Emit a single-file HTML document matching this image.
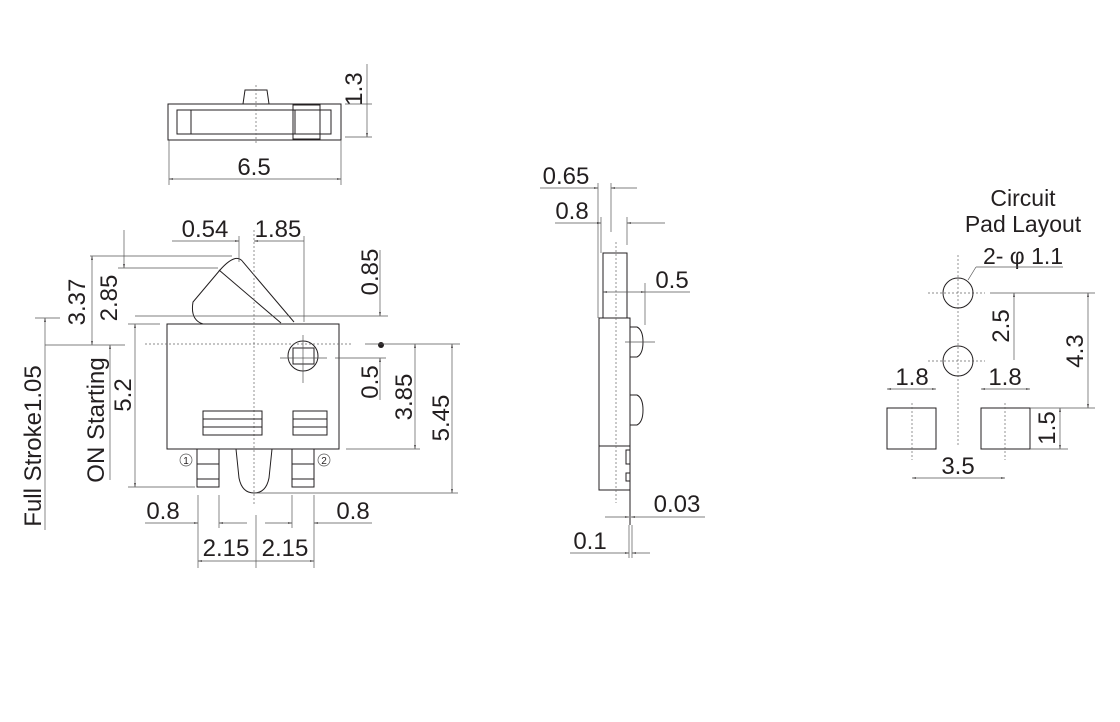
<!DOCTYPE html>
<html><head><meta charset="utf-8"><style>
html,body{margin:0;padding:0;background:#fff}
svg{display:block}
text{font-family:"Liberation Sans",sans-serif;fill:#231f20;font-size:24px}
.l{stroke:#231f20;stroke-width:1;fill:none}
.t{stroke:#555;stroke-width:.7;fill:none}
.d{stroke:#666;stroke-width:.7;fill:none;stroke-dasharray:2 2}
</style></head><body>
<svg width="1120" height="722" viewBox="0 0 1120 722" xmlns="http://www.w3.org/2000/svg">
<defs><marker id="a" viewBox="0 0 10 10" refX="10" refY="5" markerWidth="6" markerHeight="6" orient="auto-start-reverse"><path d="M0,3 L10,5 L0,7z" fill="#231f20"/></marker></defs>

<!-- Top view -->
<rect class="l" x="168" y="104" width="173" height="36"/>
<rect class="l" x="177" y="110" width="154" height="24"/>
<line class="l" x1="191" y1="110" x2="191" y2="134"/>
<rect class="l" x="293" y="105" width="27" height="34"/>
<line class="l" x1="295" y1="110" x2="295" y2="134"/>
<path class="l" d="M243,104 L245,90 L267,90 L269,104"/>
<line class="d" x1="256" y1="85" x2="256" y2="145"/>
<line class="t" x1="345" y1="104" x2="372" y2="104"/>
<line class="t" x1="345" y1="137" x2="372" y2="137"/>
<line class="t" x1="367" y1="64" x2="367" y2="137" marker-end="url(#a)"/>
<text transform="translate(362,89) rotate(-90)" text-anchor="middle">1.3</text>
<line class="t" x1="169" y1="140" x2="169" y2="185"/>
<line class="t" x1="341" y1="140" x2="341" y2="185"/>
<line class="t" x1="169" y1="179" x2="341" y2="179" marker-start="url(#a)" marker-end="url(#a)"/>
<text x="254" y="175" text-anchor="middle">6.5</text>

<!-- Main view -->
<rect class="l" x="167" y="324" width="172" height="125"/>
<path class="l" d="M203,324 Q190,320 193,302 L220,270 Q236,252 243,262 L294,322"/>
<line class="l" x1="219" y1="270" x2="281" y2="323"/>
<circle class="l" cx="303" cy="356" r="15"/>
<rect class="l" x="293" y="348" width="21" height="16"/>
<line class="t" x1="280" y1="358" x2="327" y2="358"/>
<line class="t" x1="303" y1="335" x2="303" y2="383"/>
<line class="d" x1="145" y1="344" x2="352" y2="344"/>
<line class="d" x1="254" y1="230" x2="254" y2="505"/>
<rect class="l" x="203" y="411" width="59" height="24"/>
<line class="l" x1="203" y1="419" x2="262" y2="419"/><line class="l" x1="203" y1="427" x2="262" y2="427"/>
<rect class="l" x="293" y="411" width="34" height="24"/>
<line class="l" x1="293" y1="419" x2="327" y2="419"/><line class="l" x1="293" y1="427" x2="327" y2="427"/>
<rect class="l" x="197" y="449" width="22" height="38"/>
<line class="l" x1="197" y1="464" x2="219" y2="464"/><line class="l" x1="197" y1="479" x2="219" y2="479"/>
<rect class="l" x="292" y="449" width="22" height="38"/>
<line class="l" x1="292" y1="464" x2="314" y2="464"/><line class="l" x1="292" y1="479" x2="314" y2="479"/>
<path class="l" d="M236,449 L239,478 Q242,493 254,493 Q266,493 269,478 L272,449" fill="#fff"/>
<circle class="t" cx="186" cy="460" r="6"/><text x="186" y="464" text-anchor="middle" style="font-size:10px">1</text>
<circle class="t" cx="324" cy="460" r="6"/><text x="324" y="464" text-anchor="middle" style="font-size:10px">2</text>

<line class="t" x1="239" y1="236" x2="239" y2="262"/>
<line class="t" x1="304" y1="236" x2="304" y2="322"/>
<line class="t" x1="172" y1="241" x2="239" y2="241" marker-end="url(#a)"/>
<line class="t" x1="254" y1="241" x2="304" y2="241" marker-start="url(#a)"/>
<text x="205" y="237" text-anchor="middle">0.54</text>
<text x="278" y="237" text-anchor="middle">1.85</text>

<line class="t" x1="135" y1="316" x2="388" y2="316"/>
<line class="t" x1="380" y1="250" x2="380" y2="316" marker-end="url(#a)"/>
<line class="t" x1="380" y1="358" x2="380" y2="400" marker-start="url(#a)"/>
<circle cx="381" cy="345" r="3" fill="#231f20"/>
<line class="t" x1="365" y1="344" x2="460" y2="344"/>
<line class="t" x1="335" y1="358" x2="386" y2="358"/>
<text transform="translate(378,272) rotate(-90)" text-anchor="middle">0.85</text>
<text transform="translate(378,382) rotate(-90)" text-anchor="middle">0.5</text>
<line class="t" x1="346" y1="449" x2="420" y2="449"/>
<line class="t" x1="415" y1="344" x2="415" y2="449" marker-start="url(#a)" marker-end="url(#a)"/>
<text transform="translate(412,397) rotate(-90)" text-anchor="middle">3.85</text>
<line class="t" x1="255" y1="493" x2="458" y2="493"/>
<line class="t" x1="452" y1="344" x2="452" y2="493" marker-start="url(#a)" marker-end="url(#a)"/>
<text transform="translate(449,418) rotate(-90)" text-anchor="middle">5.45</text>

<line class="t" x1="128" y1="324" x2="160" y2="324"/>
<line class="t" x1="128" y1="487" x2="195" y2="487"/>
<line class="t" x1="135" y1="324" x2="135" y2="487" marker-start="url(#a)" marker-end="url(#a)"/>
<text transform="translate(131,395) rotate(-90)" text-anchor="middle">5.2</text>
<line class="t" x1="90" y1="256" x2="232" y2="256"/>
<line class="t" x1="118" y1="268" x2="218" y2="268"/>
<line class="t" x1="124" y1="230" x2="124" y2="268" marker-end="url(#a)"/>
<text transform="translate(117,298) rotate(-90)" text-anchor="middle">2.85</text>
<line class="t" x1="92" y1="256" x2="92" y2="345" marker-start="url(#a)" marker-end="url(#a)"/>
<text transform="translate(85,302) rotate(-90)" text-anchor="middle">3.37</text>
<line class="t" x1="45" y1="345" x2="125" y2="345"/>
<line class="t" x1="35" y1="318" x2="60" y2="318"/>
<line class="t" x1="110" y1="345" x2="110" y2="480" marker-start="url(#a)"/>
<line class="t" x1="45" y1="318" x2="45" y2="530" marker-start="url(#a)"/>
<text transform="translate(104,420) rotate(-90)" text-anchor="middle">ON Starting</text>
<text transform="translate(41,446) rotate(-90)" text-anchor="middle">Full Stroke1.05</text>

<line class="t" x1="198" y1="495" x2="198" y2="568"/>
<line class="t" x1="219" y1="495" x2="219" y2="528"/>
<line class="t" x1="292" y1="495" x2="292" y2="528"/>
<line class="t" x1="314" y1="495" x2="314" y2="568"/>
<line class="t" x1="256" y1="515" x2="256" y2="568"/>
<line class="t" x1="145" y1="523" x2="198" y2="523" marker-end="url(#a)"/>
<line class="t" x1="219" y1="523" x2="247" y2="523" marker-start="url(#a)"/>
<line class="t" x1="265" y1="523" x2="292" y2="523" marker-end="url(#a)"/>
<line class="t" x1="314" y1="523" x2="372" y2="523" marker-start="url(#a)"/>
<text x="163" y="519" text-anchor="middle">0.8</text>
<text x="353" y="519" text-anchor="middle">0.8</text>
<line class="t" x1="198" y1="561" x2="314" y2="561" marker-start="url(#a)" marker-end="url(#a)"/>
<text x="226" y="556" text-anchor="middle">2.15</text>
<text x="285" y="556" text-anchor="middle">2.15</text>

<!-- Side view -->
<rect class="l" x="603" y="253" width="24" height="65"/>
<rect class="l" x="599" y="318" width="31" height="172"/>
<line class="l" x1="599" y1="446" x2="630" y2="446"/>
<rect class="l" x="626" y="450" width="4" height="14"/>
<rect class="l" x="626" y="473" width="4" height="8"/>
<path class="l" d="M630,327 L637,327 Q643,330 643,342 Q643,354 637,357 L630,357"/>
<path class="l" d="M630,395 L637,395 Q643,398 643,410 Q643,422 637,425 L630,425"/>
<line class="t" x1="625" y1="342" x2="655" y2="342"/>
<line class="l" x1="630" y1="490" x2="630" y2="525"/>
<line class="d" x1="616" y1="242" x2="616" y2="503"/>
<line class="t" x1="598" y1="183" x2="598" y2="318"/>
<line class="t" x1="611" y1="183" x2="611" y2="232"/>
<line class="t" x1="540" y1="188" x2="598" y2="188" marker-end="url(#a)"/>
<line class="t" x1="611" y1="188" x2="637" y2="188" marker-start="url(#a)"/>
<text x="566" y="184" text-anchor="middle">0.65</text>
<line class="t" x1="601" y1="217" x2="601" y2="253"/>
<line class="t" x1="627" y1="217" x2="627" y2="245"/>
<line class="t" x1="555" y1="223" x2="601" y2="223" marker-end="url(#a)"/>
<line class="t" x1="627" y1="223" x2="665" y2="223" marker-start="url(#a)"/>
<text x="572" y="219" text-anchor="middle">0.8</text>
<line class="t" x1="645" y1="283" x2="645" y2="325"/>
<line class="t" x1="603" y1="292" x2="645" y2="292" marker-start="url(#a)" marker-end="url(#a)"/>
<line class="t" x1="645" y1="292" x2="690" y2="292"/>
<text x="672" y="288" text-anchor="middle">0.5</text>
<line class="t" x1="605" y1="517" x2="629" y2="517" marker-end="url(#a)"/>
<line class="t" x1="631" y1="517" x2="705" y2="517" marker-start="url(#a)"/>
<text x="677" y="512" text-anchor="middle">0.03</text>
<line class="t" x1="629" y1="525" x2="629" y2="558"/>
<line class="t" x1="632" y1="525" x2="632" y2="558"/>
<line class="t" x1="570" y1="553" x2="629" y2="553" marker-end="url(#a)"/>
<line class="t" x1="632" y1="553" x2="650" y2="553" marker-start="url(#a)"/>
<text x="590" y="549" text-anchor="middle">0.1</text>

<!-- Pad layout -->
<text x="1023" y="206" text-anchor="middle" style="font-size:23px">Circuit</text>
<text x="1023" y="232" text-anchor="middle" style="font-size:23px">Pad Layout</text>
<text x="1023" y="264" text-anchor="middle" style="font-size:23px">2- φ 1.1</text>
<line class="t" x1="976" y1="267" x2="1063" y2="267"/>
<line class="t" x1="976" y1="267" x2="968" y2="280"/>
<line class="d" x1="958" y1="255" x2="958" y2="445"/>
<line class="d" x1="928" y1="293" x2="985" y2="293"/>
<line class="d" x1="928" y1="361" x2="985" y2="361"/>
<circle class="l" cx="958" cy="293" r="15"/>
<circle class="l" cx="958" cy="361" r="15"/>
<rect class="l" x="887" y="408" width="49" height="41"/>
<rect class="l" x="981" y="408" width="49" height="41"/>
<line class="d" x1="912" y1="403" x2="912" y2="460"/>
<line class="d" x1="1005" y1="403" x2="1005" y2="460"/>
<line class="t" x1="887" y1="389" x2="936" y2="389" marker-start="url(#a)" marker-end="url(#a)"/>
<line class="t" x1="981" y1="389" x2="1030" y2="389" marker-start="url(#a)" marker-end="url(#a)"/>
<text x="912" y="385" text-anchor="middle">1.8</text>
<text x="1005" y="385" text-anchor="middle">1.8</text>
<line class="t" x1="990" y1="293" x2="1095" y2="293"/>
<line class="t" x1="1014" y1="293" x2="1014" y2="360" marker-start="url(#a)"/>
<text transform="translate(1009,326) rotate(-90)" text-anchor="middle">2.5</text>
<line class="t" x1="1030" y1="408" x2="1095" y2="408"/>
<line class="t" x1="1030" y1="449" x2="1068" y2="449"/>
<line class="t" x1="1088" y1="293" x2="1088" y2="408" marker-start="url(#a)" marker-end="url(#a)"/>
<text transform="translate(1083,351) rotate(-90)" text-anchor="middle">4.3</text>
<line class="t" x1="1060" y1="408" x2="1060" y2="449" marker-start="url(#a)" marker-end="url(#a)"/>
<text transform="translate(1055,428) rotate(-90)" text-anchor="middle">1.5</text>
<line class="t" x1="912" y1="478" x2="1005" y2="478" marker-start="url(#a)" marker-end="url(#a)"/>
<text x="958" y="474" text-anchor="middle">3.5</text>
</svg>
</body></html>
